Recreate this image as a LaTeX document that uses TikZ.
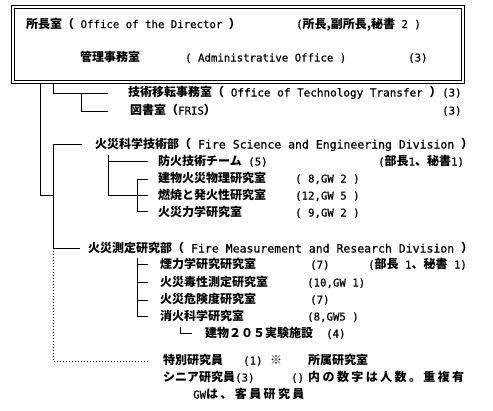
\documentclass[tikz,border=0pt]{standalone}
\usepackage{fontspec}
\newfontfamily\jpf{Noto Sans CJK JP}
\newfontfamily\jpwide{Noto Sans CJK JP}[LetterSpace=20]
\newfontfamily\enf{DejaVu Sans Mono}[FakeBold=0.7]
\newcommand\E[1]{{\enf\mdseries\fontsize{10.7}{12}\selectfont #1}}
\newcommand\EM[1]{{\enf\mdseries\fontsize{11}{12}\selectfont #1}}
\newcommand\EE[1]{{\enf\mdseries\fontsize{11.5}{12}\selectfont #1}}
\begin{document}
\begin{tikzpicture}[x=1pt,y=-1pt,
  txt/.style={anchor=base west, inner sep=0pt, font=\jpf\bfseries\fontsize{12}{13}\selectfont},
  ln/.style={line width=0.9pt},
  dl/.style={line width=1pt, dotted}]
\useasboundingbox (0,0) rectangle (493,410);
% director box (double frame)
\node (office) [draw, line width=1.3pt, anchor=north west, minimum width=453pt, minimum height=78pt, inner sep=0pt] at (11,5) {};
\node (officein) [draw, line width=0.5pt, anchor=north west, minimum width=447pt, minimum height=72pt, inner sep=0pt] at (14,8) {};
% texts in box
\node[txt] (dir) at (26,28) {所長室（\E{ Office of the Director }）};
\node[txt] (dirn) at (296,28) {\E{(}所長,副所長,秘書\E{ 2 )}};
\node[txt] (adm) at (80,61.5) {管理事務室};
\node[txt] (admen) at (185,61.5) {\E{( Administrative Office )}};
\node[txt] (admn) at (408,61.5) {\E{(3)}};
% staff offices
\node[txt] (tto) at (128,96.5) {技術移転事務室（\EM{ Office of Technology Transfer }）};
\node[txt] (tton) at (442,96.5) {\E{(3)}};
\node[txt] (lib) at (130,114.5) {図書室（\E{FRIS}）};
\node[txt] (libn) at (442,114.5) {\E{(3)}};
% fire science division
\node[txt] (fsd) at (95,148.5) {火災科学技術部（\EE{ Fire Science and Engineering Division }）};
\node[txt] (fst) at (158,165.5) {防火技術チーム\E{ (5)}};
\node[txt] (fstn) at (378,165.5) {\E{(}部長\E{1}、秘書\E{1)}};
\node[txt] (fs1) at (158,182.5) {建物火災物理研究室};
\node[txt] (fs1n) at (295,182.5) {\E{( 8,GW 2 )}};
\node[txt] (fs2) at (158,199.5) {燃焼と発火性研究室};
\node[txt] (fs2n) at (295,199.5) {\E{(12,GW 5 )}};
\node[txt] (fs3) at (158,216.5) {火災力学研究室};
\node[txt] (fs3n) at (295,216.5) {\E{( 9,GW 2 )}};
% fire measurement division
\node[txt] (fmd) at (88,252.5) {火災測定研究部（\EE{ Fire Measurement and Research Division }）};
\node[txt] (fm1) at (160,268.5) {煙力学研究研究室};
\node[txt] (fm1n) at (310,268.5) {\E{(7)}};
\node[txt] (fm1m) at (368,268.5) {\E{(}部長\E{ 1}、秘書\E{ 1)}};
\node[txt] (fm2) at (160,286.5) {火災毒性測定研究室};
\node[txt] (fm2n) at (307,286.5) {\E{(10,GW 1)}};
\node[txt] (fm3) at (160,303.5) {火災危険度研究室};
\node[txt] (fm3n) at (310,303.5) {\E{(7)}};
\node[txt] (fm4) at (160,320.5) {消火科学研究室};
\node[txt] (fm4n) at (307,320.5) {\E{(8,GW5 )}};
\node[txt] (b205) at (205,337.5) {建物２０５実験施設};
\node[txt] (b205n) at (326,337.5) {\E{(4)}};
% notes
\node[txt] (sp) at (163,364.5) {特別研究員};
\node[txt] (spn) at (243,364.5) {\E{(1)}};
\node[txt] (mark) at (270,364.5) {※};
\node[txt] (note1) at (308,364.5) {所属研究室};
\node[txt] (sr) at (163,381.5) {シニア研究員\E{(3)}};
\node[txt] (par) at (291,381.5) {\E{()}};
\node[txt] (note2) at (308,381.5) {\jpwide 内の数字は人数。重複有};
\node[txt] (gw) at (193,398.5) {\E{GW}\jpwide は、客員研究員};
% junction coordinates
\coordinate (t0) at (40,83);
\coordinate (t1) at (40,195);
\coordinate (s0) at (53,83);
\coordinate (s1) at (53,93);
\coordinate (s2) at (108,93);
\coordinate (l0) at (81,93);
\coordinate (l1) at (81,111);
\coordinate (l2) at (108,111);
\coordinate (d0) at (53,144);
\coordinate (d1) at (82,144);
\coordinate (d2) at (53,195);
\coordinate (d3) at (53,248);
\coordinate (d4) at (80,248);
\coordinate (e1) at (53,361);
\coordinate (e2) at (150,361);
% fire science sub
\coordinate (a0) at (108,155);
\coordinate (a1) at (108,195);
\coordinate (a2) at (108,161);
\coordinate (a3) at (148,161);
\coordinate (b0) at (137,179);
\coordinate (b1) at (137,211);
\coordinate (b2) at (137,195);
% measurement sub
\coordinate (c0) at (137,258);
\coordinate (c1) at (137,316);
% connectors
\draw[ln] (t0) -- (t1) -- (d2);
\draw[ln] (s0) -- (s1) -- (s2);
\draw[ln] (l0) -- (l1) -- (l2);
\draw[ln] (d0) -- (d1);
\draw[ln] (d0) -- (d3) -- (d4);
\draw[dl] (d3) -- (e1) -- (e2);
\draw[ln] (a0) -- (a1) -- (b2);
\draw[ln] (a2) -- (a3);
\draw[ln] (b0) -- (b1);
\foreach \y in {179,195,211} \draw[ln] (137,\y) -- (148,\y);
\draw[ln] (c0) -- (c1);
\foreach \y in {264,282,300,316} \draw[ln] (137,\y) -- (148,\y);
\draw[ln] (180,327) -- (180,333) -- (192,333);
\end{tikzpicture}
\end{document}
